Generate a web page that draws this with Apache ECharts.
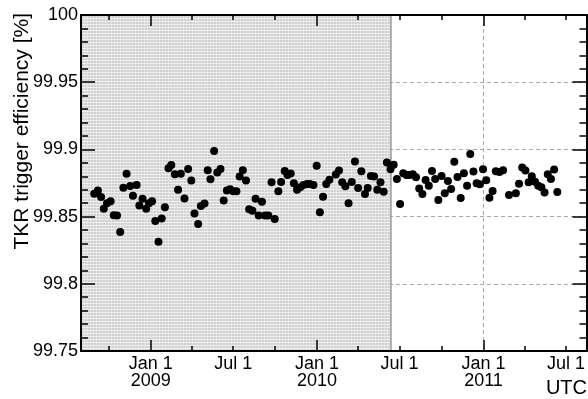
<!DOCTYPE html>
<html><head><meta charset="utf-8">
<script src="https://cdn.jsdelivr.net/npm/echarts@6/dist/echarts.min.js"></script>
<style>html,body{margin:0;padding:0;background:#fff}#c{width:588px;height:399px}</style>
</head><body><div id="c"></div>
<script>
// Days since 2009-01-01 (UTC) of each weekly measurement
const daysSince2009 = [-124,-116,-109,-103,-96,-88,-81,-74,-67,-60,-53,-45,-39,-31,-25,-18,-10,-4,3,10,17,24,31,39,45,53,60,66,74,
 82,89,96,104,110,118,125,131,139,146,153,160,167,174,181,188,195,202,209,216,223,230,237,244,251,258,265,272,280,286,294,300,307,
 314,321,328,335,343,349,357,364,371,378,385,392,406,413,420,427,434,441,448,455,462,470,476,483,490,497,504,511,518,526,
 533,540,547,554,561,568,575,582,589,596,603,610,617,624,631,638,645,652,659,666,673,680,687,694,701,708,715,722,729,736,743,750,757,
 765,773,786,801,808,815,822,829,836,843,850,857,864,871,878,885,892];
const efficiency = [99.867,99.8695,99.8645,99.8558,99.86,99.8615,99.851,99.8508,99.8385,99.8715,99.8818,99.8728,99.8655,99.8735,99.8583,99.8633,99.8558,99.86,99.8615,99.8468,99.8313,99.8485,99.857,99.886,99.8883,99.8815,99.87,99.8818,99.8635,
 99.8855,99.8768,99.8523,99.8445,99.8578,99.8598,99.8845,99.8778,99.8988,99.8828,99.8855,99.862,99.8695,99.8703,99.8688,99.8688,99.8798,99.8845,99.8768,99.8555,99.8543,99.8633,99.8508,99.861,99.8508,99.8508,99.8755,99.8483,99.8688,99.8758,99.884,99.881,99.882,
 99.8748,99.87,99.8718,99.8735,99.8743,99.8743,99.8735,99.8878,99.8533,99.8648,99.8743,99.8775,99.8813,99.8843,99.8755,99.8725,99.86,99.8758,99.891,99.8713,99.8838,99.8668,99.8713,99.8803,99.8798,99.87,99.8755,99.8685,99.8903,99.8853,
 99.8885,99.878,99.8593,99.8823,99.881,99.881,99.8815,99.8793,99.871,99.8668,99.8773,99.873,99.884,99.878,99.8623,99.8803,99.8673,99.8765,99.8705,99.8908,99.8795,99.8638,99.8823,99.873,99.8965,99.8835,99.8748,99.874,99.8853,99.877,99.864,99.869,99.8838,
 99.8831,99.8845,99.866,99.8673,99.8745,99.8865,99.8843,99.8755,99.88,99.876,99.873,99.8718,99.868,99.8815,99.878,99.885,99.8683];
const xRangeDates = ['2008-08-01','2011-08-15'];
const shadeEndDate = '2010-06-12';
const quarterTickDates = ['2008-10-01','2009-01-01','2009-04-01','2009-07-01','2009-10-01','2010-01-01','2010-04-01','2010-07-01','2010-10-01','2011-01-01','2011-04-01','2011-07-01'];
const yearTickDates = ['2009-01-01','2010-01-01','2011-01-01'];
const labelDates = ['2009-01-01','2009-07-01','2010-01-01','2010-07-01','2011-01-01','2011-07-01'];
const labelTexts = ['Jan 1\n2009','Jul 1','Jan 1\n2010','Jul 1','Jan 1\n2011','Jul 1'];
const yTitle = 'TKR trigger efficiency [%]';
const xUnit = 'UTC';

const E0 = Date.UTC(2009,0,1);
function dayOf(s){const p=s.split('-').map(Number);return Math.round((Date.UTC(p[0],p[1]-1,p[2])-E0)/864e5);}
const xMin = dayOf(xRangeDates[0]), xMax = dayOf(xRangeDates[1]);
const qTicks = quarterTickDates.map(dayOf), yTicks = yearTickDates.map(dayOf), lVals = labelDates.map(dayOf);

const pc = document.createElement('canvas'); pc.width=3; pc.height=3;
const g = pc.getContext('2d');
g.fillStyle='rgba(206,206,206,0.93)'; g.fillRect(0,0,3,3);
g.clearRect(0,0,3,1); g.clearRect(0,1,1,2);
g.fillStyle='rgba(238,238,238,0.93)'; g.fillRect(0,0,3,1);
g.fillStyle='rgba(224,224,224,0.93)'; g.fillRect(0,1,1,2);

const FONT='Liberation Sans';
const baseX = {type:'value', min:xMin, max:xMax, gridIndex:0};
const chart = echarts.init(document.getElementById('c'), null, {renderer:'canvas'});
chart.setOption({
  animation:false,
  grid:{left:81, right:1, top:15, bottom:48},
  xAxis:[
    Object.assign({}, baseX, {position:'bottom', z:10,
      axisLine:{show:true, onZero:false, lineStyle:{color:'#000', width:2}},
      axisTick:{show:true, inside:true, length:5, customValues:qTicks, lineStyle:{color:'#000', width:1.5}},
      axisLabel:{show:true, customValues:lVals, margin:5, fontSize:18, lineHeight:17, color:'#000', fontFamily:FONT,
        formatter:v=>{const i=lVals.indexOf(Math.round(v));return i>=0?labelTexts[i]:'';}},
      splitLine:{show:false}}),
    Object.assign({}, baseX, {position:'bottom', z:10,
      axisLine:{show:false}, axisLabel:{show:false}, splitLine:{show:false},
      axisTick:{show:true, inside:true, length:11, customValues:yTicks, lineStyle:{color:'#000', width:1.5}}}),
    Object.assign({}, baseX, {position:'top', z:10,
      axisLine:{show:true, onZero:false, lineStyle:{color:'#000', width:2}},
      axisTick:{show:true, inside:true, length:5, customValues:qTicks, lineStyle:{color:'#000', width:1.5}},
      axisLabel:{show:false}, splitLine:{show:false}}),
    Object.assign({}, baseX, {position:'top', z:10,
      axisLine:{show:false}, axisLabel:{show:false}, splitLine:{show:false},
      axisTick:{show:true, inside:true, length:11, customValues:yTicks, lineStyle:{color:'#000', width:1.5}}}),
    Object.assign({}, baseX, {position:'bottom', z:0,
      axisLine:{show:false}, axisLabel:{show:false},
      axisTick:{show:false, customValues:yTicks},
      splitLine:{show:true, lineStyle:{color:'#a8a8a8', width:1, type:[4,3]}}})
  ],
  yAxis:[
    {type:'value', min:99.75, max:100, interval:0.05, position:'left', z:10,
      axisLine:{show:true, onZero:false, lineStyle:{color:'#000', width:2}},
      axisTick:{show:true, inside:true, length:14, lineStyle:{color:'#000', width:1.5}},
      minorTick:{show:true, splitNumber:5, length:7, lineStyle:{color:'#000', width:1.5}},
      axisLabel:{margin:3, fontSize:18, color:'#000', fontFamily:FONT},
      splitLine:{show:false}},
    {type:'value', min:99.75, max:100, interval:0.05, position:'right', z:10,
      axisLine:{show:true, onZero:false, lineStyle:{color:'#000', width:2}},
      axisTick:{show:true, inside:true, length:14, lineStyle:{color:'#000', width:1.5}},
      minorTick:{show:true, splitNumber:5, length:7, lineStyle:{color:'#000', width:1.5}},
      axisLabel:{show:false}, splitLine:{show:false}},
    {type:'value', min:99.75, max:100, interval:0.05, position:'left', z:0,
      axisLine:{show:false}, axisTick:{show:false}, axisLabel:{show:false},
      splitLine:{show:true, lineStyle:{color:'#a8a8a8', width:1, type:[4,3]}}}
  ],
  series:[{
    type:'scatter', xAxisIndex:0, yAxisIndex:0, z:2,
    data: daysSince2009.map((d,i)=>[d, efficiency[i]]),
    symbol:'circle', symbolSize:8, itemStyle:{color:'#000', opacity:1},
    markArea:{silent:true, itemStyle:{color:{image:pc, repeat:'repeat'}, borderColor:'#999999', borderWidth:1.5},
      data:[[{xAxis:xMin},{xAxis:dayOf(shadeEndDate)}]]}
  }],
  graphic:[
    {type:'text', x:22, y:13, rotation:Math.PI/2, style:{text:yTitle, fontSize:21, fontFamily:FONT, fill:'#000', align:'right', verticalAlign:'middle'}},
    {type:'text', x:587, y:388, style:{text:xUnit, fontSize:20, fontFamily:FONT, fill:'#000', align:'right', verticalAlign:'middle'}}
  ]
});
</script></body></html>
